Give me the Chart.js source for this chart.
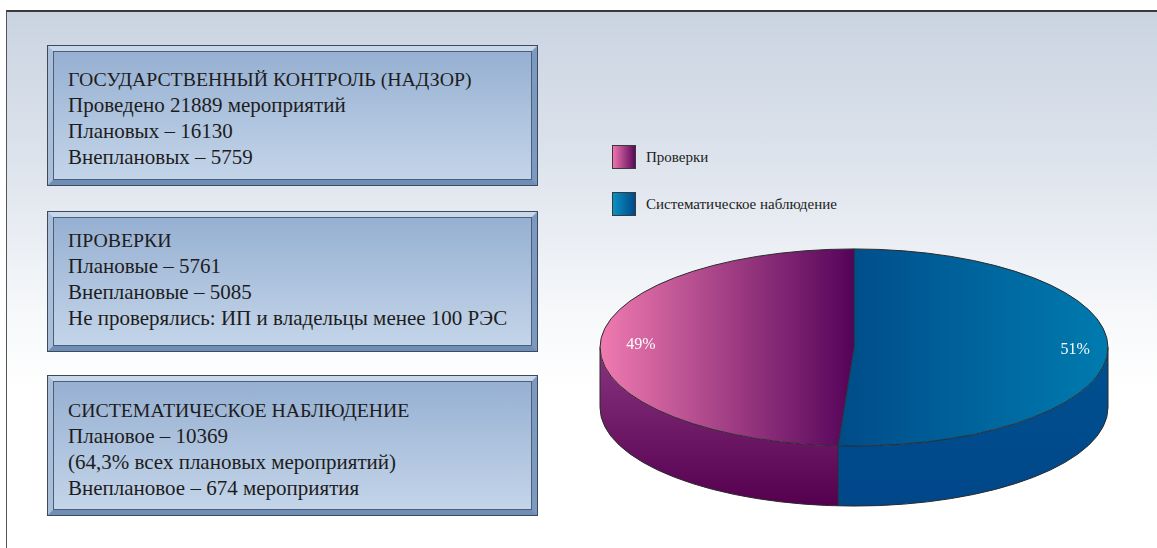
<!DOCTYPE html>
<html><head><meta charset="utf-8">
<script src="https://cdn.jsdelivr.net/npm/chart.js@4/dist/chart.umd.min.js"></script>
<style>
html,body{margin:0;padding:0;width:1157px;height:548px;overflow:hidden;background:#fff;}
#frame{position:absolute;left:6px;top:10px;width:1160px;height:560px;border-top:2px solid #3a3a3a;border-left:1px solid #555;
 background:linear-gradient(to bottom,#cad4e1 0px,#d9e0ea 120px,#e9edf3 220px,#f6f8fa 300px,#ffffff 380px);}
.box{position:absolute;left:48px;width:489px;height:139px;box-sizing:border-box;border:5px solid;
 border-color:#c8d7e9 #7b99c1 #6e8eb8 #a9bed9;outline:1px solid #3f4a58;box-shadow:inset 0 0 0 1px #4d5f78;
 background:linear-gradient(to bottom,#96b0d2,#c4d5e9);font-family:"Liberation Serif",serif;font-size:21px;line-height:26px;color:#1d1d1d;padding-left:15px;white-space:nowrap;}
.box .h{font-size:19.8px;}
#legend{position:absolute;left:612px;top:145px;font-family:"Liberation Serif",serif;font-size:15px;color:#222;}
.li{position:relative;height:47px;}
.sw{position:absolute;left:0;top:0;width:24px;height:24px;border:1px solid #3a3a3a;box-sizing:border-box;}
.lt{position:absolute;left:34px;top:2px;line-height:20px;white-space:nowrap;}
canvas{position:absolute;left:0;top:0;}
</style></head>
<body>
<div id="frame"></div>
<div class="box" style="top:46px;padding-top:15px" id="b1"></div>
<div class="box" style="top:212px;padding-top:10px" id="b2"></div>
<div class="box" style="top:376px;padding-top:16px" id="b3"></div>
<div id="legend"></div>
<canvas id="c" width="1157" height="548"></canvas>
<script>
// ---- data ----
const categories = ["Проверки", "Систематическое наблюдение"];
const shares = [49, 51];
const shareLabels = ["49%", "51%"];
const box1Lines = ["ГОСУДАРСТВЕННЫЙ КОНТРОЛЬ (НАДЗОР)", "Проведено 21889 мероприятий", "Плановых – 16130", "Внеплановых – 5759"];
const box2Lines = ["ПРОВЕРКИ", "Плановые – 5761", "Внеплановые – 5085", "Не проверялись: ИП и владельцы менее 100 РЭС"];
const box3Lines = ["СИСТЕМАТИЧЕСКОЕ НАБЛЮДЕНИЕ", "Плановое – 10369", "(64,3% всех плановых мероприятий)", "Внеплановое – 674 мероприятия"];

// ---- style ----
const topGrad = [["#f07bb0", "#54035a"], ["#004c89", "#007baf"]];
const sideGrad = [["#8a3580", "#55004f"], ["#00508e", "#00478a"]];
const swatchGrad = [["#ee74ac", "#5a0a5a"], ["#0a90c2", "#004a88"]];
const CENTER_Y = 347.5, TILT = 0.388, DEPTH = 60;

[["b1", box1Lines], ["b2", box2Lines], ["b3", box3Lines]].forEach(([id, lines]) => {
  const el = document.getElementById(id);
  lines.forEach((t, j) => { const d = document.createElement('div'); if (j === 0) d.className = 'h'; d.textContent = t; el.appendChild(d); });
});
const lg = document.getElementById('legend');
categories.forEach((c, i) => {
  const li = document.createElement('div'); li.className = 'li';
  li.innerHTML = '<div class="sw" style="background:linear-gradient(to right,' + swatchGrad[i][0] + ',' + swatchGrad[i][1] + ')"></div><div class="lt"></div>';
  li.querySelector('.lt').textContent = c;
  lg.appendChild(li);
});

const total = shares.reduce((a, b) => a + b, 0);
const rotationDeg = shares[1] / total * 360;

function topFill(c) {
  const i = c.dataIndex || 0;
  const ch = c.chart; const a = ch.chartArea;
  if (!a) return topGrad[i][0];
  const cx = (a.left + a.right) / 2, R = Math.min(a.right - a.left, a.bottom - a.top) / 2;
  const g = ch.ctx.createLinearGradient(i === 0 ? cx - R : cx - R * 0.06, 0, i === 0 ? cx : cx + R, 0);
  g.addColorStop(0, topGrad[i][0]); g.addColorStop(1, topGrad[i][1]);
  return g;
}

function frontRanges(s, e) {
  const T = Math.PI * 2;
  const off = Math.floor(s / T) * T; s -= off; e -= off;
  const out = [];
  [0, T].forEach(b => { const lo = Math.max(s, b), hi = Math.min(e, b + Math.PI); if (hi > lo) out.push([lo, hi]); });
  return out;
}

const pie3d = {
  id: 'pie3d',
  beforeDatasetsDraw(chart) {
    const ctx = chart.ctx, meta = chart.getDatasetMeta(0), a0 = meta.data[0];
    const cx = a0.x, cy0 = a0.y, R = a0.outerRadius, ry = R * TILT, cy = CENTER_Y;
    meta.data.forEach((arc, i) => {
      frontRanges(arc.startAngle, arc.endAngle).forEach(([lo, hi]) => {
        const g = ctx.createLinearGradient(0, cy, 0, cy + ry + DEPTH);
        g.addColorStop(0, sideGrad[i][0]); g.addColorStop(1, sideGrad[i][1]);
        ctx.beginPath();
        ctx.ellipse(cx, cy, R, ry, 0, lo, hi);
        ctx.ellipse(cx, cy + DEPTH, R, ry, 0, hi, lo, true);
        ctx.closePath();
        ctx.fillStyle = g; ctx.fill();
      });
    });
    ctx.save();
    ctx.translate(0, cy); ctx.scale(1, TILT); ctx.translate(0, -cy0);
  },
  afterDatasetsDraw(chart) {
    const ctx = chart.ctx; ctx.restore();
    const meta = chart.getDatasetMeta(0), a0 = meta.data[0];
    const cx = a0.x, R = a0.outerRadius, ry = R * TILT, cy = CENTER_Y;
    ctx.save();
    ctx.strokeStyle = '#2a2a2a'; ctx.lineWidth = 1;
    ctx.beginPath(); ctx.ellipse(cx, cy, R, ry, 0, 0, Math.PI * 2); ctx.stroke();
    ctx.beginPath(); ctx.ellipse(cx, cy + DEPTH, R, ry, 0, 0, Math.PI); ctx.stroke();
    ctx.beginPath();
    ctx.moveTo(cx - R, cy); ctx.lineTo(cx - R, cy + DEPTH);
    ctx.moveTo(cx + R, cy); ctx.lineTo(cx + R, cy + DEPTH);
    meta.data.forEach(arc => {
      const s = arc.startAngle;
      const px = cx + R * Math.cos(s), py = cy + ry * Math.sin(s);
      ctx.moveTo(cx, cy); ctx.lineTo(px, py);
      if (Math.sin(s) > 0) { ctx.moveTo(px, py); ctx.lineTo(px, py + DEPTH); }
    });
    ctx.stroke();
    ctx.fillStyle = '#ffffff'; ctx.font = '16px "Liberation Serif", serif';
    ctx.textAlign = 'center'; ctx.textBaseline = 'middle';
    meta.data.forEach((arc, i) => {
      const m = (arc.startAngle + arc.endAngle) / 2;
      ctx.fillText(shareLabels[i], cx + R * 0.855 * Math.cos(m) + 4, cy + ry * 0.855 * Math.sin(m));
    });
    ctx.restore();
  }
};

new Chart(document.getElementById('c'), {
  type: 'pie',
  data: { labels: categories, datasets: [{ data: shares, backgroundColor: topFill, borderWidth: 0, clip: false }] },
  options: {
    responsive: false, animation: false, devicePixelRatio: 1,
    rotation: rotationDeg,
    layout: { padding: { left: 600, right: 49, top: 0, bottom: 0 } },
    plugins: { legend: { display: false }, tooltip: { enabled: false } },
    events: []
  },
  plugins: [pie3d]
});
</script>
</body></html>
